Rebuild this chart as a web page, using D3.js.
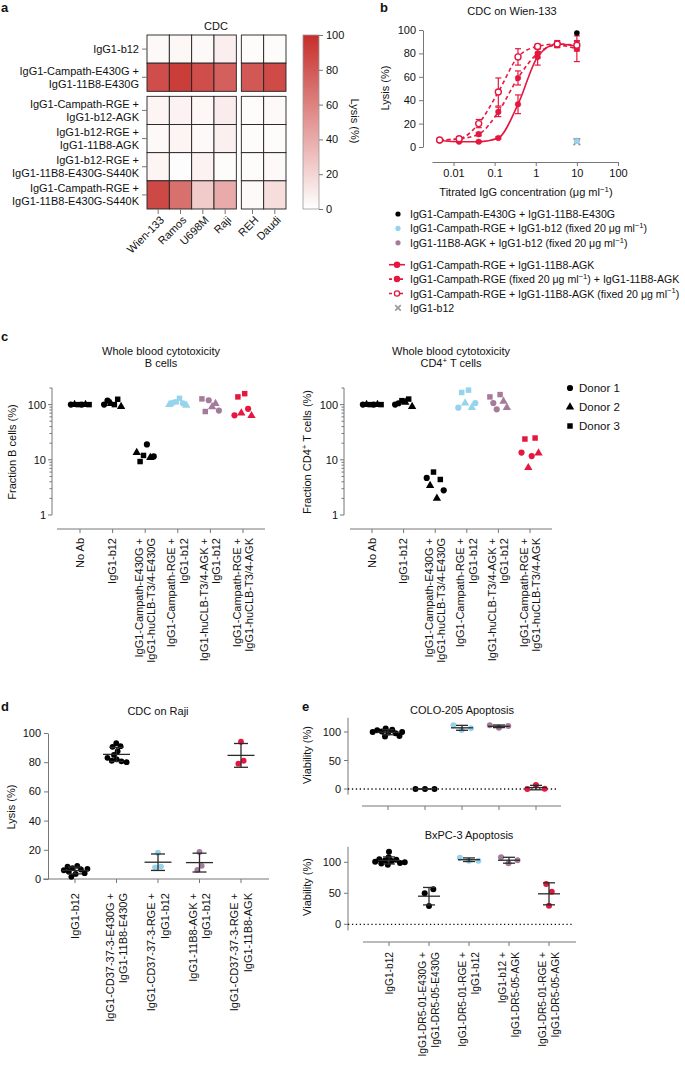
<!DOCTYPE html>
<html><head><meta charset="utf-8">
<script src="https://cdn.jsdelivr.net/npm/d3@7"></script>
<style>
body{margin:0;background:#fff}
svg{font-family:"Liberation Sans",Arial,Helvetica,sans-serif;}
</style></head><body>
<svg id="fig" width="685" height="1065"></svg>
<script>
// ===================== DATA =====================
// Panel a
const heatCols = ["Wien-133","Ramos","U698M","Raji","REH","Daudi"];
const heatRows = [["IgG1-b12"],["IgG1-Campath-E430G +","IgG1-11B8-E430G"],["IgG1-Campath-RGE +","IgG1-b12-AGK"],["IgG1-b12-RGE +","IgG1-11B8-AGK"],["IgG1-b12-RGE +","IgG1-11B8-E430G-S440K"],["IgG1-Campath-RGE +","IgG1-11B8-E430G-S440K"]];
const heatValues = [
  [3,4,3,8,2,2],
  [85,93,85,76,80,86],
  [5,6,4,9,2,3],
  [3,5,3,7,2,2],
  [5,1,6,2,2,3],
  [87,68,25,40,3,16]
];
const heatScaleTicks = [0,20,40,60,80,100];

// Panel b
const bConc = [0.0046,0.0137,0.041,0.123,0.37,1.11,3.33,10];
const bSolid = [5.5,4.5,4.5,7.7,36.5,77,88,86];
const bSolidSd = [1,0.5,0.5,1,8,7,3,4];
const bDashFilled = [6,7,11,30,59,80,87,84];
const bDashFilledSd = [1,1,1.5,4,6,4,2,11];
const bDashOpen = [6,7,20,47,77,86,88,87];
const bDashOpenSd = [1,1,3.5,12,7,2,2,4];
const bSingleConc = 10;
const bSingleBlack = 97.5, bSingleCyan = 5, bSinglePurple = 5.5, bSingleGray = 4.5;
const bXTicks = [0.01,0.1,1,10,100];
const bXTickLabels = ["0.01","0.1","1","10","100"];
const bYTicks = [0,20,40,60,80,100];
const bLegend = [
  {type:"dot", color:"black", text:[["IgG1-Campath-E430G + IgG1-11B8-E430G",0]]},
  {type:"dot", color:"cyan", text:[["IgG1-Campath-RGE + IgG1-b12 (fixed 20 μg ml",0],["−1",1],[")",0]]},
  {type:"dot", color:"purple", text:[["IgG1-11B8-AGK +  IgG1-b12 (fixed 20 μg ml",0],["−1",1],[")",0]]},
  {type:"solid", color:"red", text:[["IgG1-Campath-RGE + IgG1-11B8-AGK",0]]},
  {type:"dashfill", color:"red", text:[["IgG1-Campath-RGE (fixed 20 μg ml",0],["−1",1],[") + IgG1-11B8-AGK",0]]},
  {type:"dashopen", color:"red", text:[["IgG1-Campath-RGE + IgG1-11B8-AGK (fixed 20 μg ml",0],["−1",1],[")",0]]},
  {type:"cross", color:"gray", text:[["IgG1-b12",0]]}
];

// Panel c  ([donor, value])
const cCategories = [["No Ab"],["IgG1-b12"],["IgG1-Campath-E430G +","IgG1-huCLB-T3/4-E430G"],["IgG1-Campath-RGE +","IgG1-b12"],["IgG1-huCLB-T3/4-AGK +","IgG1-b12"],["IgG1-Campath-RGE +","IgG1-huCLB-T3/4-AGK"]];
const cGroupColors = ["black","black","black","cyan","purple","red"];
const cBcells = [
  [[1,100],[2,100],[3,100],[1,100],[2,100],[3,100]],
  [[1,100],[1,118],[2,104],[3,100],[3,125],[2,92]],
  [[2,13.5],[3,9.3],[3,12],[1,19],[2,11],[1,11.5]],
  [[2,100],[1,108],[3,112],[3,130],[1,106],[2,97]],
  [[3,127],[3,75],[1,120],[2,91],[2,104],[1,78]],
  [[1,64],[3,138],[2,70],[3,158],[1,84],[2,63]]
];
const cCD4 = [
  [[1,100],[2,100],[3,100],[1,100],[2,100],[3,100]],
  [[1,100],[1,106],[3,118],[2,110],[3,126],[2,92]],
  [[1,4.7],[2,3.4],[3,6.0],[2,2.0],[3,4.4],[1,2.8]],
  [[1,88],[3,166],[2,107],[3,183],[2,88],[1,107]],
  [[3,138],[1,107],[1,82],[3,152],[2,115],[2,88]],
  [[1,13.5],[3,23.8],[2,7.2],[1,11.7],[3,24.8],[2,13.2]]
];
const cYTicks = [1,10,100];
const cYMinor = [2,3,4,5,6,7,8,9,20,30,40,50,60,70,80,90,200];
const donorLabels = ["Donor 1","Donor 2","Donor 3"];

// Panel d
const dCategories = [["IgG1-b12"],["IgG1-CD37-37-3-E430G +","IgG1-11B8-E430G"],["IgG1-CD37-37-3-RGE +","IgG1-b12"],["IgG1-11B8-AGK +","IgG1-b12"],["IgG1-CD37-37-3-RGE +","IgG1-11B8-AGK"]];
const dGroupColors = ["black","black","cyan","purple","red"];
const dValues = [
  [6,8.5,1.5,5,3.5,7.5,9,6.5,4,7],
  [93,90.5,91,87.5,85,83,82,81,80.5,80],
  [18,8,8.5],
  [18.5,6.2,9],
  [94,79,81]
];
const dYTicks = [0,20,40,60,80,100];

// Panel e
const eCategories = [["IgG1-b12"],["IgG1-DR5-01-E430G +","IgG1-DR5-05-E430G"],["IgG1-DR5-01-RGE +","IgG1-b12"],["IgG1-b12 +","IgG1-DR5-05-AGK"],["IgG1-DR5-01-RGE +","IgG1-DR5-05-AGK"]];
const eGroupColors = ["black","black","cyan","purple","red"];
const eColo = [
  [100,101,103,104,106,99,92,93,98,100],
  [0,0,0],
  [112,103.5,106.5],
  [112,107.5,110.5],
  [7,0,0.5]
];
const eBxpc = [
  [101,98,105,108,117,103,96,99,102,104,100],
  [50,56.5,29.5],
  [107.5,102.5,102.5],
  [108,98.5,103.5],
  [65,52.5,30]
];
const eYTicks = [0,50,100];

// ===================== STYLE =====================
const COL = {black:"#000", cyan:"#96d3ec", purple:"#a57b9b", red:"#e5173f", gray:"#9a9a9a"};
const AX = "#777";
const FS = 11;

const svg = d3.select("#fig");
svg.append("rect").attr("width",685).attr("height",1065).attr("fill","#fff");

function txt(x,y,s,o={}){
  const t = svg.append("text").attr("x",x).attr("y",y)
    .attr("text-anchor",o.anchor||"start").style("font-size",(o.size||FS)+"px")
    .attr("fill",o.fill||"#111");
  if(o.bold) t.attr("font-weight","bold");
  if(o.rotate) t.attr("transform",`rotate(${o.rotate},${x},${y})`);
  if(typeof s==="string") t.text(s); else rich(t,s,o.size||FS);
  return t;
}
function rich(t,segs,size){
  let up=false;
  segs.forEach(([s,sup])=>{
    const ts=t.append("tspan").text(s);
    if(sup && !up){ts.attr("dy",-size*0.4).style("font-size",(size*0.72)+"px");up=true;}
    else if(sup){ts.style("font-size",(size*0.72)+"px");}
    else if(!sup && up){ts.attr("dy",size*0.4);up=false;}
  });
}
function styleAxis(g){
  g.attr("font-family",null).attr("font-size",null);
  g.selectAll("path,line").attr("stroke",AX).attr("stroke-width",1);
  g.selectAll("text").attr("fill","#111").style("font-size",FS+"px");
}
function vLabel(g,x,yTop,lines,sp,size){
  const t=g.append("text").attr("transform",`translate(${x},${yTop}) rotate(-90)`)
    .attr("text-anchor","end").style("font-size",(size||FS)+"px").attr("fill","#111");
  const n=lines.length;
  lines.forEach((s,i)=>t.append("tspan").attr("x",0).attr("y",(i-(n-1)/2)*sp).attr("dy","0.35em").text(s));
}
function swarm(ys,r,spread,pull){
  const nodes=ys.map((y,i)=>({x:(i-(ys.length-1)/2)*spread,y:y,fy:y}));
  const sim=d3.forceSimulation(nodes).force("c",d3.forceCollide(r).strength(1).iterations(4));
  if(pull!==0) sim.force("x",d3.forceX(0).strength(pull==null?0.06:pull));
  sim.stop();
  for(let i=0;i<400;i++) sim.tick();
  return nodes.map(n=>n.x);
}

// ===================== PANEL LETTERS =====================
txt(1,12,"a",{bold:true,size:13});
txt(380,12,"b",{bold:true,size:13});
txt(1,341,"c",{bold:true,size:13});
txt(1,711,"d",{bold:true,size:13});
txt(302,711,"e",{bold:true,size:13});

// ===================== PANEL A =====================
{
  const g=svg.append("g");
  const hx=d3.scaleBand().domain(heatCols).range([147,281]);
  const hy=d3.scaleBand().domain(d3.range(heatRows.length)).range([35,204]);
  const cOff=i=>i>=4?5:0, rOff=i=>i>=2?5:0;
  const heatColor=d3.scaleLinear().domain([0,100]).range(["#ffffff","#c62e2a"]);
  heatValues.forEach((row,ri)=>row.forEach((v,ci)=>{
    g.append("rect").attr("x",hx(heatCols[ci])+cOff(ci)).attr("y",hy(ri)+rOff(ri))
      .attr("width",hx.bandwidth()).attr("height",hy.bandwidth())
      .attr("fill",heatColor(v)).attr("stroke","#222").attr("stroke-width",0.9);
  }));
  txt(216,30,"CDC",{anchor:"middle"});
  heatRows.forEach((lines,ri)=>{
    const cy=hy(ri)+rOff(ri)+hy.bandwidth()/2;
    g.append("line").attr("x1",142).attr("x2",147).attr("y1",cy).attr("y2",cy).attr("stroke",AX);
    const n=lines.length;
    lines.forEach((s,i)=>txt(139,cy+(i-(n-1)/2)*13+4,s,{anchor:"end"}));
  });
  heatCols.forEach((c,ci)=>{
    const cx=hx(c)+cOff(ci)+hx.bandwidth()/2;
    g.append("line").attr("x1",cx).attr("x2",cx).attr("y1",209).attr("y2",214).attr("stroke",AX);
    g.append("text").attr("transform",`translate(${cx+4},${218}) rotate(-45)`).attr("text-anchor","end")
      .attr("dy","0.35em").style("font-size",FS+"px").attr("fill","#111").text(c);
  });
  const defs=svg.append("defs");
  const lg=defs.append("linearGradient").attr("id","cbar").attr("x1",0).attr("y1",1).attr("x2",0).attr("y2",0);
  d3.range(0,101,10).forEach(v=>lg.append("stop").attr("offset",v+"%").attr("stop-color",heatColor(v)));
  g.append("rect").attr("x",303).attr("y",35).attr("width",16).attr("height",174).attr("fill","url(#cbar)").attr("stroke","#999").attr("stroke-width",0.8);
  const cb=d3.scaleLinear().domain([0,100]).range([209,35]);
  const ax=g.append("g").attr("transform","translate(319,0)").call(d3.axisRight(cb).tickValues(heatScaleTicks).tickSize(4).tickSizeOuter(0));
  styleAxis(ax); ax.select(".domain").remove();
  txt(351,121,"Lysis (%)",{anchor:"middle",rotate:90});
}

// ===================== PANEL B =====================
{
  const g=svg.append("g");
  const bx=d3.scaleLog().domain([0.003,100]).range([432,618]);
  const by=d3.scaleLinear().domain([0,100]).range([147,30]);
  txt(512,15,"CDC on Wien-133",{anchor:"middle"});
  const ay=g.append("g").attr("transform","translate(423,0)").call(d3.axisLeft(by).tickValues(bYTicks).tickSize(4).tickSizeOuter(0));
  styleAxis(ay);
  const axx=g.append("g").attr("transform","translate(0,162)").call(d3.axisBottom(bx).tickValues(bXTicks).tickFormat((d,i)=>bXTickLabels[i]).tickSize(4).tickSizeOuter(0));
  styleAxis(axx);
  txt(389,88,"Lysis (%)",{anchor:"middle",rotate:-90});
  txt(526,196,[["Titrated IgG concentration (μg ml",0],["−1",1],[")",0]],{anchor:"middle"});

  const series=[
    {v:bSolid,sd:bSolidSd,dash:null,open:false},
    {v:bDashFilled,sd:bDashFilledSd,dash:"4,3",open:false},
    {v:bDashOpen,sd:bDashOpenSd,dash:"4,3",open:true}
  ];
  const line=d3.line().x(d=>bx(d[0])).y(d=>by(d[1])).curve(d3.curveMonotoneX);
  series.forEach(s=>{
    g.append("path").attr("d",line(bConc.map((c,i)=>[c,s.v[i]]))).attr("fill","none")
      .attr("stroke",COL.red).attr("stroke-width",1.6).attr("stroke-dasharray",s.dash);
  });
  series.forEach(s=>{
    bConc.forEach((c,i)=>{
      const x=bx(c),y1=by(s.v[i]-s.sd[i]),y2=by(s.v[i]+s.sd[i]);
      g.append("line").attr("x1",x).attr("x2",x).attr("y1",y1).attr("y2",y2).attr("stroke",COL.red).attr("stroke-width",1.2);
      [y1,y2].forEach(yy=>g.append("line").attr("x1",x-3).attr("x2",x+3).attr("y1",yy).attr("y2",yy).attr("stroke",COL.red).attr("stroke-width",1.2));
    });
  });
  series.forEach(s=>{
    bConc.forEach((c,i)=>{
      g.append("circle").attr("cx",bx(c)).attr("cy",by(s.v[i])).attr("r",s.open?3:2.8)
        .attr("fill",s.open?"#fff":COL.red).attr("stroke",COL.red).attr("stroke-width",s.open?1.4:0.5);
    });
  });
  const sx=bx(bSingleConc);
  g.append("path").attr("d",d3.symbol(d3.symbolX,30)()).attr("transform",`translate(${sx},${by(bSingleGray)})`).attr("stroke",COL.gray).attr("stroke-width",1.8).attr("fill","none");
  g.append("circle").attr("cx",sx).attr("cy",by(bSinglePurple)).attr("r",2.8).attr("fill",COL.purple);
  g.append("circle").attr("cx",sx).attr("cy",by(bSingleCyan)).attr("r",2.8).attr("fill",COL.cyan);
  g.append("circle").attr("cx",sx).attr("cy",by(bSingleBlack)).attr("r",2.8).attr("fill",COL.black);

  bLegend.forEach((it,i)=>{
    const y=214+i*14.4+(i>=3?7.5:0);
    const c=COL[it.color];
    if(it.type==="dot") g.append("circle").attr("cx",398).attr("cy",y).attr("r",2.6).attr("fill",c);
    else if(it.type==="cross") g.append("path").attr("d",d3.symbol(d3.symbolX,22)()).attr("transform",`translate(398,${y})`).attr("stroke",c).attr("stroke-width",1.6).attr("fill","none");
    else {
      g.append("line").attr("x1",389).attr("x2",405).attr("y1",y).attr("y2",y).attr("stroke",c).attr("stroke-width",1.6)
        .attr("stroke-dasharray",it.type==="solid"?null:"3,2.5");
      g.append("circle").attr("cx",397).attr("cy",y).attr("r",2.6).attr("fill",it.type==="dashopen"?"#fff":c).attr("stroke",c).attr("stroke-width",1.3);
    }
    txt(410,y+4,it.text,{size:10.6});
  });
}

// ===================== PANEL C =====================
const shapeOf={1:d3.symbolCircle,2:d3.symbolTriangle,3:d3.symbolSquare};
const sizeOf={1:30,2:30,3:30};
function panelC(axisX,xRange,lineRange,data,title2,ylabel,ylabelX,titleX){
  const g=svg.append("g");
  const cy=d3.scaleLog().domain([1,200]).range([515,388]);
  const cx=d3.scalePoint().domain(d3.range(cCategories.length)).range(xRange);
  g.append("line").attr("x1",axisX).attr("x2",axisX).attr("y1",cy(1)).attr("y2",cy(200)).attr("stroke",AX);
  cYTicks.forEach(t=>{
    g.append("line").attr("x1",axisX-4).attr("x2",axisX).attr("y1",cy(t)).attr("y2",cy(t)).attr("stroke",AX);
    txt(axisX-6,cy(t)+4,String(t),{anchor:"end"});
  });
  cYMinor.forEach(t=>g.append("line").attr("x1",axisX-2.5).attr("x2",axisX).attr("y1",cy(t)).attr("y2",cy(t)).attr("stroke",AX));
  g.append("line").attr("x1",lineRange[0]).attr("x2",lineRange[1]).attr("y1",529).attr("y2",529).attr("stroke",AX);
  cCategories.forEach((lab,i)=>{
    const x=cx(i);
    g.append("line").attr("x1",x).attr("x2",x).attr("y1",529).attr("y2",533).attr("stroke",AX);
    vLabel(g,x,538,lab,12.5);
  });
  data.forEach((grp,gi)=>{
    const ys=grp.map(d=>cy(d[1]));
    const offs=swarm(ys,1.8,3.4,0);
    grp.forEach((d,k)=>{
      g.append("path").attr("d",d3.symbol(shapeOf[d[0]],sizeOf[d[0]])())
        .attr("transform",`translate(${cx(gi)+offs[k]},${ys[k]})`).attr("fill",COL[cGroupColors[gi]]);
    });
  });
  txt(titleX,355,"Whole blood cytotoxicity",{anchor:"middle"});
  txt(titleX,367,title2,{anchor:"middle"});
  txt(ylabelX,452,ylabel,{anchor:"middle",rotate:-90});
}
panelC(52,[80,243],[57,265],cBcells,"B cells","Fraction B cells (%)",16,161);
panelC(344,[372,530],[350,552],cCD4,[["CD4",0],["+",1],[" T cells",0]],[["Fraction CD4",0],["+",1],[" T cells (%)",0]],311,451);
donorLabels.forEach((s,i)=>{
  const y=388+i*19;
  svg.append("path").attr("d",d3.symbol(shapeOf[i+1],sizeOf[i+1])()).attr("transform",`translate(570,${y})`).attr("fill","#000");
  txt(579,y+4,s,{size:11.5});
});

// ===================== DOT + MEAN/SD helper =====================
function dotGroup(g,x,vals,ys,color,r,collR,meanW,capW,yScale){
  const offs=swarm(ys,collR,1);
  vals.forEach((v,k)=>g.append("circle").attr("cx",x+offs[k]).attr("cy",ys[k]).attr("r",r).attr("fill",COL[color]));
  const m=d3.mean(vals), sd=d3.deviation(vals);
  const ym=yScale(m), y1=yScale(m-sd), y2=yScale(m+sd);
  const st="#2a2a2a";
  g.append("line").attr("x1",x-meanW/2).attr("x2",x+meanW/2).attr("y1",ym).attr("y2",ym).attr("stroke",st).attr("stroke-width",1.3);
  g.append("line").attr("x1",x).attr("x2",x).attr("y1",y1).attr("y2",y2).attr("stroke",st).attr("stroke-width",1.3);
  [y1,y2].forEach(yy=>g.append("line").attr("x1",x-capW/2).attr("x2",x+capW/2).attr("y1",yy).attr("y2",yy).attr("stroke",st).attr("stroke-width",1.3));
}

// ===================== PANEL D =====================
{
  const g=svg.append("g");
  const dx=d3.scalePoint().domain(d3.range(dCategories.length)).range([75,241]);
  const dy=d3.scaleLinear().domain([0,100]).range([879,733]);
  txt(158,715,"CDC on Raji",{anchor:"middle"});
  const ay=g.append("g").attr("transform","translate(48,0)").call(d3.axisLeft(dy).tickValues(dYTicks).tickSize(4).tickSizeOuter(0));
  styleAxis(ay);
  g.append("line").attr("x1",43).attr("x2",269).attr("y1",879).attr("y2",879).attr("stroke",AX);
  dCategories.forEach((lab,i)=>{
    const x=dx(i);
    g.append("line").attr("x1",x).attr("x2",x).attr("y1",879).attr("y2",883).attr("stroke",AX);
    vLabel(g,x,893,lab,13.5);
  });
  txt(15,807,"Lysis (%)",{anchor:"middle",rotate:-90});
  dValues.forEach((vals,gi)=>{
    const ys=vals.map(v=>dy(v));
    dotGroup(g,dx(gi),vals,ys,dGroupColors[gi],2.9,vals.length>5?2.6:3,27,14,dy);
  });
}

// ===================== PANEL E =====================
function panelE(data,yZero,y100,xRange,lineRange,xAxisY,dotEnd,title,titleX,titleY,showLabels,ylabY){
  const g=svg.append("g");
  const ex=d3.scalePoint().domain(d3.range(eCategories.length)).range(xRange);
  const ey=d3.scaleLinear().domain([0,100]).range([yZero,y100]);
  txt(titleX,titleY,title,{anchor:"middle"});
  g.append("line").attr("x1",348).attr("x2",348).attr("y1",ey(-10)).attr("y2",ey(125)).attr("stroke",AX);
  eYTicks.forEach(t=>{
    g.append("line").attr("x1",344).attr("x2",348).attr("y1",ey(t)).attr("y2",ey(t)).attr("stroke",AX);
    txt(341,ey(t)+4,String(t),{anchor:"end"});
  });
  g.append("line").attr("x1",348).attr("x2",dotEnd).attr("y1",ey(0)).attr("y2",ey(0))
    .attr("stroke","#111").attr("stroke-width",1.3).attr("stroke-dasharray","1.3,2.6");
  g.append("line").attr("x1",lineRange[0]).attr("x2",lineRange[1]).attr("y1",xAxisY).attr("y2",xAxisY).attr("stroke",AX);
  eCategories.forEach((lab,i)=>{
    const x=ex(i);
    g.append("line").attr("x1",x).attr("x2",x).attr("y1",xAxisY).attr("y2",xAxisY+4).attr("stroke",AX);
    if(showLabels) vLabel(g,x,952,lab,13,10.2);
  });
  txt(311,ylabY,"Viability (%)",{anchor:"middle",rotate:-90});
  data.forEach((vals,gi)=>{
    const ys=vals.map(v=>ey(v));
    dotGroup(g,ex(gi),vals,ys,eGroupColors[gi],3,vals.length>5?2.4:4.75,22,12,ey);
  });
}
panelE(eColo,789,732,[388,536],[362,561],806,558,"COLO-205 Apoptosis",462,714,false,755);
panelE(eBxpc,924.3,862.3,[389,549],[363,576],942,572,"BxPC-3 Apoptosis",469,839,true,887);
</script>
</body></html>
